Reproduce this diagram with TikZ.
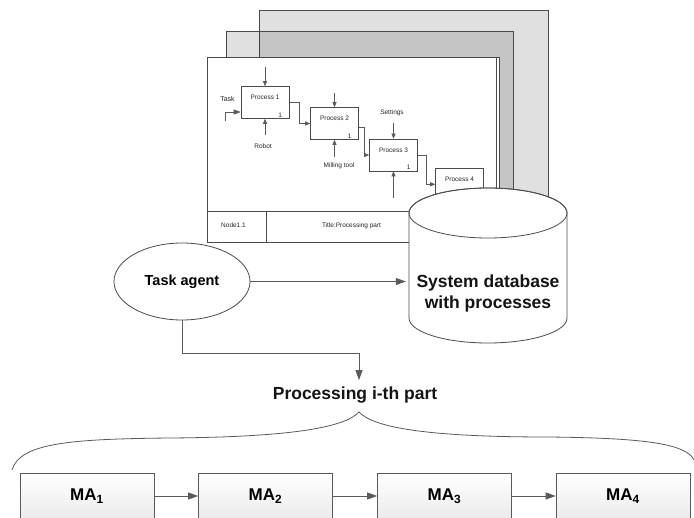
\documentclass[tikz,border=0pt]{standalone}
\usepackage{fontspec}
\setmainfont{Liberation Sans}
\usetikzlibrary{arrows.meta,shapes.geometric,calc}
\definecolor{linegray}{HTML}{4A4A4A}
\definecolor{conngray}{HTML}{5A5A5A}
\begin{document}
\begin{tikzpicture}[x=1pt,y=-1pt,
  sheet/.style={draw=linegray,line width=0.7pt,fill=black,fill opacity=0.12},
  frontsheet/.style={draw=linegray,line width=0.7pt,fill=white},
  pbox/.style={draw=linegray,line width=0.6pt,fill=white,minimum width=48pt,minimum height=32pt,inner sep=0pt},
  smalltxt/.style={font=\fontsize{6.5}{7}\selectfont,inner sep=0pt,text=black!85},
  parrow/.style={draw=conngray,line width=0.6pt,-{Triangle[length=5pt,width=4pt]}},
  conn/.style={draw=conngray,line width=0.8pt,-{Triangle[length=10pt,width=7pt]}},
  agent/.style={ellipse,draw=linegray,line width=0.8pt,fill=white,minimum width=136pt,minimum height=77pt,inner sep=0pt,font=\bfseries\fontsize{14.5}{17}\selectfont},
  mabox/.style={draw=conngray,line width=0.7pt,top color=white,bottom color=black!8,minimum width=134pt,minimum height=46pt,inner sep=0pt,font=\bfseries\fontsize{17}{20}\selectfont},
  bigtext/.style={font=\bfseries\fontsize{17.5}{21}\selectfont,inner xsep=0pt,inner ysep=7pt,text=black!92},
  dbtext/.style={font=\bfseries\fontsize{17.5}{21}\selectfont,align=center,inner sep=0pt,text=black!92},
]
\useasboundingbox (0,0) rectangle (694,518);

% stacked sheets
\path[sheet] (259,10) rectangle (548,230);
\path[sheet] (226,31) rectangle (513,230);
\path[frontsheet] (207,57) rectangle (499,242);
\draw[linegray,line width=0.6pt] (496.5,57) -- (496.5,242);
\draw[linegray,line width=0.7pt] (207,211) -- (499,211) (266,211) -- (266,242);
\node[smalltxt,anchor=base] (nodeid) at (233.5,228) {Node1.1};
\node[smalltxt,anchor=base] (title) at (351.5,228) {Title:Processing part};

% processes
\node[pbox] (p1) at (265,102.5) {};
\node[pbox] (p2) at (334.5,123.5) {};
\node[pbox] (p3) at (393.5,155) {};
\node[pbox] (p4) at (459.5,184.3) {};
\foreach \p/\n in {p1/1,p2/2,p3/3,p4/4} {
  \node[smalltxt,anchor=base] (\p lab) at ([yshift=2.5pt]\p.center) {Process \n};
  \node[smalltxt,anchor=base east] (\p one) at ([xshift=-7pt,yshift=1.5pt]\p.south east) {1};
}
\coordinate (p1in) at (265,67);
\coordinate (p1mech) at (265,135);
\coordinate (p2in) at (334.5,93);
\coordinate (p2mech) at (334.5,157);
\coordinate (p3in) at (393.5,123);
\coordinate (p3mech) at (393.5,198);
\coordinate (task0) at (225,121);
\draw[parrow] (p1in) -- (p1.north);
\draw[parrow] (p1mech) -- (p1.south);
\draw[parrow] (p2in) -- (p2.north);
\draw[parrow] (p2mech) -- (p2.south);
\draw[parrow] (p3in) -- (p3.north);
\draw[parrow] (p3mech) -- (p3.south);
\draw[parrow,-{Triangle[length=7pt,width=5pt]}] (task0) |- ([yshift=-9.5pt]p1.west);
\draw[parrow] (p1.east) -- ++(10,0) |- (p2.west);
\draw[parrow] ([yshift=-3.5pt]p2.east) -- ++(5,0) |- (p3.west);
\draw[parrow] (p3.east) -- ++(8,0) |- (p4.west);
\node[smalltxt,anchor=base,font=\fontsize{7}{8}\selectfont] (tasklbl) at (227.5,101.5) {Task};
\node[smalltxt,anchor=base] (robot) at (263,149) {Robot};
\node[smalltxt,anchor=base] (mill) at (339,167.5) {Milling tool};
\node[smalltxt,anchor=base] (sett) at (392,115) {Settings};

% database cylinder
\filldraw[draw=linegray,fill=white,line width=0.8pt] (409,213) -- (409,318)
  arc[start angle=180,end angle=360,x radius=79pt,y radius=25pt] -- (567,213)
  arc[start angle=0,end angle=180,x radius=79pt,y radius=25pt] -- cycle;
\draw[linegray,line width=0.8pt] (488,213) ellipse [x radius=79pt,y radius=25pt];
\node[minimum width=158pt,minimum height=155pt,inner sep=0pt] (db) at (488,265.5) {};
\node[dbtext] (dbtxt) at (488,293) {System database\\with processes};

% task agent
\node[agent] (ta) at (182,281.5) {Task agent};
\draw[conn,shorten >=3pt] (ta.east) -- (ta.east -| db.west);

% processing
\node[bigtext,anchor=base] (proc) at (355,400) {Processing i-th part};
\coordinate (bend) at (182,353);
\draw[conn] (ta.south) -- (bend) -| ([xshift=4pt]proc.north);

% brace
\draw[conngray,line width=0.8pt] (12,470) .. controls (20,443) and (70,439) .. (170,438)
  .. controls (300,437) and (346,426) .. (359,412)
  .. controls (372,426) and (418,437) .. (548,437)
  .. controls (640,438) and (686,443) .. (694,460);

% MA boxes
\node[mabox] (ma1) at (87,496) {MA\textsubscript{1}};
\node[mabox] (ma2) at (265.5,496) {MA\textsubscript{2}};
\node[mabox] (ma3) at (444.5,496) {MA\textsubscript{3}};
\node[mabox] (ma4) at (623,496) {MA\textsubscript{4}};
\draw[conn] (ma1) -- (ma2);
\draw[conn] (ma2) -- (ma3);
\draw[conn] (ma3) -- (ma4);
\end{tikzpicture}
\end{document}
